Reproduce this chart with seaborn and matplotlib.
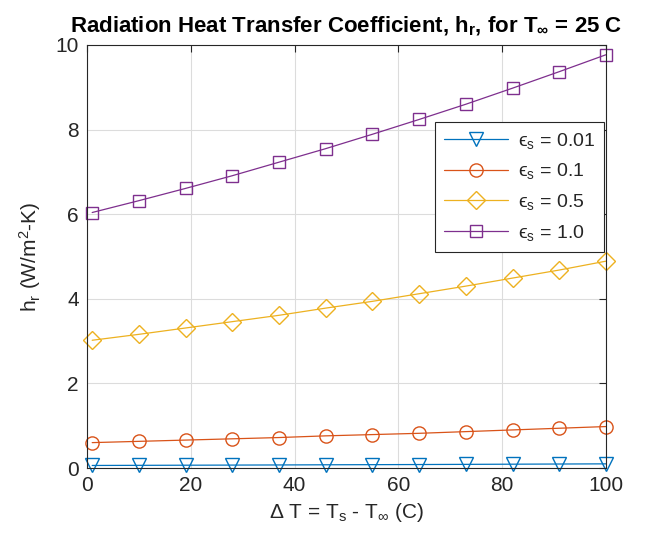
import matplotlib
matplotlib.use("Agg")
import matplotlib.pyplot as plt
import seaborn as sns
import pandas as pd

delta_t = [1, 10, 19, 28, 37, 46, 55, 64, 73, 82, 91, 100]
hr_001 = [0.060, 0.063, 0.066, 0.069, 0.072, 0.076, 0.079, 0.082, 0.086, 0.090, 0.094, 0.098]
hr_01 = [0.60, 0.63, 0.66, 0.69, 0.72, 0.76, 0.79, 0.82, 0.86, 0.90, 0.94, 0.98]
hr_05 = [3.02, 3.16, 3.31, 3.46, 3.61, 3.78, 3.94, 4.12, 4.30, 4.49, 4.68, 4.89]
hr_10 = [6.04, 6.32, 6.61, 6.91, 7.23, 7.55, 7.89, 8.24, 8.60, 8.98, 9.37, 9.77]
labels = ["\u03f5$_s$ = 0.01", "\u03f5$_s$ = 0.1", "\u03f5$_s$ = 0.5", "\u03f5$_s$ = 1.0"]
colors = ["#0072BD", "#D95319", "#EDB120", "#7E2F8E"]
markers = ["v", "o", "D", "s"]
msizes = [10, 9.5, 9, 8.5]

sns.set_theme(style="white")
plt.rcParams["font.family"] = ["Liberation Sans", "DejaVu Sans"]
plt.rcParams["mathtext.fontset"] = "custom"
plt.rcParams["mathtext.rm"] = "Liberation Sans"
plt.rcParams["mathtext.it"] = "Liberation Sans"
plt.rcParams["mathtext.bf"] = "Liberation Sans:bold"

fig = plt.figure(figsize=(6.46, 5.38), dpi=100)
ax = fig.add_axes([87/646, 1-468/538, (606-87)/646, (468-45)/538])

for ys, lab, c, m, ms in zip([hr_001, hr_01, hr_05, hr_10], labels, colors, markers, msizes):
    df = pd.DataFrame({"x": delta_t, "y": ys})
    sns.lineplot(data=df, x="x", y="y", ax=ax, color=c, linewidth=0.9, marker=m,
                 markersize=ms, markerfacecolor="none", markeredgecolor=c,
                 markeredgewidth=1.0, label=lab, clip_on=False, zorder=3)

ax.set_xlim(0, 100)
ax.set_ylim(0, 10)
ax.set_xticks([0, 20, 40, 60, 80, 100])
ax.set_yticks([0, 2, 4, 6, 8, 10])
ax.grid(True, color="#dcdcdc", linewidth=0.8)
ax.set_axisbelow(True)
for s in ax.spines.values():
    s.set_color("#262626")
    s.set_linewidth(0.8)
    s.set_zorder(4)
ax.tick_params(direction="in", top=True, right=True, length=5, width=0.8,
               labelsize=15, colors="#262626", labelcolor="#262626", pad=6)
ax.set_xlabel(r"$\Delta$ T = T$_s$ - T$_\infty$ (C)", fontsize=15, color="#262626", labelpad=4)
ax.set_ylabel(r"h$_r$ (W/m$^2$-K)", fontsize=15, color="#262626", labelpad=9)
ax.set_title(r"Radiation Heat Transfer Coefficient, $\mathbf{h_r}$, for $\mathbf{T_{\infty}}$ = 25 C",
             fontsize=16, fontweight="bold", color="black", pad=9)

leg = ax.legend(loc="upper right", bbox_to_anchor=(0.996, 0.818), borderaxespad=0,
                fontsize=14, frameon=True, fancybox=False, edgecolor="#262626", framealpha=1,
                handlelength=3.3, borderpad=0.45, labelspacing=0.55, handletextpad=0.5)
leg.get_frame().set_linewidth(0.8)
leg.set_zorder(5)

fig.savefig("out.png", dpi=100)
